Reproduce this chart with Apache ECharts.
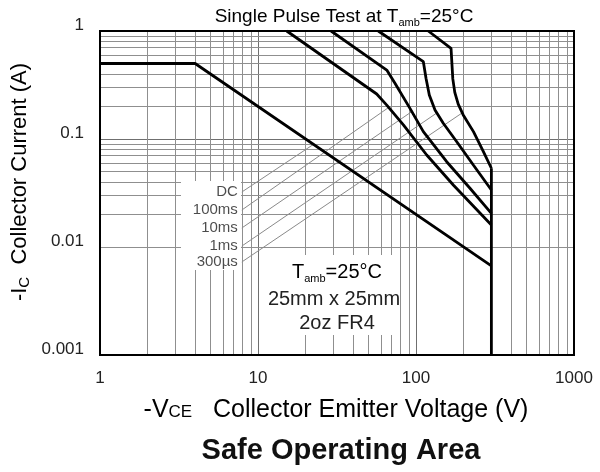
<!DOCTYPE html>
<html>
<head>
<meta charset="utf-8">
<title>Safe Operating Area</title>
<script src="https://cdn.jsdelivr.net/npm/echarts@6/dist/echarts.min.js"></script>
<style>
  html, body { margin: 0; padding: 0; background: #fff; }
  #chart { width: 600px; height: 472px; }
</style>
</head>
<body>
<div id="chart"></div>
<script>
// 坐标轴刻度
const xTickLabels = ["1", "10", "100", "1000"];
const yTickLabels = ["0.001", "0.01", "0.1", "1"];
// 网格线 (十进位主线 + 次线)
const majorX = [10, 100];
const majorY = [0.01, 0.1];
const gridX = [2, 3, 4, 5, 6, 7, 8, 9, 20, 30, 40, 50, 60, 70, 80, 90, 200, 300, 400, 500, 600, 700, 800, 900];
const gridY = [0.002, 0.003, 0.004, 0.005, 0.006, 0.007, 0.008, 0.009,
  0.02, 0.03, 0.04, 0.05, 0.06, 0.07, 0.08, 0.09,
  0.2, 0.3, 0.4, 0.5, 0.6, 0.7, 0.8, 0.9];

// SOA 曲线 [Vce, Ic]
const dcCurve = [[1, 0.5], [4, 0.5], [300, 0.0067]];
const ms100Curve = [[15.2, 1], [56.4, 0.261], [65.3, 0.206], [83.2, 0.135], [116.9, 0.0711], [172.2, 0.0375], [300, 0.016]];
const ms10Curve = [[29, 1], [65.3, 0.435], [73.6, 0.328], [91.6, 0.192], [111.3, 0.117], [156.4, 0.0616], [219.6, 0.035], [300, 0.0205]];
const ms1Curve = [[57.7, 1], [111.3, 0.52], [115.7, 0.365], [121.4, 0.255], [131.9, 0.186], [148.8, 0.14], [181.1, 0.0944], [230.6, 0.0574], [300, 0.0337]];
const us300Curve = [[119.6, 1], [166.6, 0.692], [171, 0.36], [176, 0.27], [185, 0.21], [199, 0.167], [231, 0.117], [267, 0.0763], [300, 0.0536]];
const limitLine = [[300, 0.001], [300, 0.0536]];

// 标注文字和引线
const labelNames = ["DC", "100ms", "10ms", "1ms", "300µs"];
const labelAnchors = [[7.9, 0.0323], [7.9, 0.022], [7.9, 0.015], [7.9, 0.0102], [7.9, 0.00727]];
const leaderEnds = [[22.4, 0.089], [66.5, 0.194], [93.9, 0.179], [135.3, 0.174], [195.5, 0.174]];

const FONT = "Liberation Sans, Arial, sans-serif";
const TEXT = "#222";
// 绘图区
const G = { left: 100, top: 31, width: 474, height: 324 };

const chart = echarts.init(document.getElementById("chart"));

const curveStyle = { color: "#000", width: 2.8 };
const curve = data => ({
  type: "line",
  data: data,
  symbol: "none",
  z: 10,
  lineStyle: curveStyle,
  silent: true
});

const leaders = leaderEnds.map((end, i) => ({
  type: "line",
  data: [labelAnchors[i], end],
  symbol: "none",
  z: 9,
  lineStyle: { color: "#8a8a8a", width: 1 },
  silent: true
}));

const majorStyle = { color: "#6f6f6f", width: 1, type: "solid" };
const gridLines = []
  .concat(majorX.map(v => ({ xAxis: v, lineStyle: majorStyle })))
  .concat(majorY.map(v => ({ yAxis: v, lineStyle: majorStyle })))
  .concat(gridX.map(v => ({ xAxis: v })))
  .concat(gridY.map(v => ({ yAxis: v })));

const option = {
  backgroundColor: "#fff",
  animation: false,
  grid: {
    left: G.left,
    top: G.top,
    width: G.width,
    height: G.height
  },
  xAxis: {
    type: "log",
    logBase: 10,
    min: 1,
    max: 1000,
    axisLine: { show: false },
    axisTick: { show: false },
    splitLine: { show: false },
    axisLabel: {
      fontFamily: FONT,
      fontSize: 17,
      color: TEXT,
      margin: 15,
      formatter: (v, i) => xTickLabels[i]
    }
  },
  yAxis: {
    type: "log",
    logBase: 10,
    min: 0.001,
    max: 1,
    axisLine: { show: false },
    axisTick: { show: false },
    splitLine: { show: false },
    axisLabel: {
      fontFamily: FONT,
      fontSize: 17,
      color: TEXT,
      margin: 16,
      verticalAlign: "bottom",
      lineHeight: 12,
      formatter: (v, i) => yTickLabels[i]
    }
  },
  series: [
    {
      // 网格线
      type: "line",
      data: [],
      z: 1,
      silent: true,
      markLine: {
        silent: true,
        z: 2,
        symbol: "none",
        animation: false,
        label: { show: false },
        lineStyle: { color: "#8f8f8f", width: 1, type: "solid" },
        data: gridLines
      }
    },
    curve(dcCurve),
    curve(ms100Curve),
    curve(ms10Curve),
    curve(ms1Curve),
    curve(us300Curve),
    curve(limitLine),
    ...leaders,
    {
      type: "scatter",
      data: labelAnchors.map((p, i) => [p[0], p[1], labelNames[i]]),
      symbolSize: 0,
      z: 12,
      silent: true,
      label: {
        show: true,
        position: "left",
        distance: 4,
        fontFamily: FONT,
        fontSize: 15,
        color: "#1e1e1e",
        formatter: p => p.value[2]
      }
    }
  ],
  graphic: {
    z: 6,
    elements: [
      // 白底遮挡网格
      { type: "rect", z: 6, silent: true, shape: { x: 181, y: 181, width: 60, height: 89 }, style: { fill: "#fff" } },
      { type: "rect", z: 6, silent: true, shape: { x: 259, y: 255, width: 140, height: 80 }, style: { fill: "#fff" } },
      // 外框
      { type: "rect", z: 20, silent: true, shape: { x: G.left, y: G.top, width: G.width, height: G.height }, style: { fill: null, stroke: "#000", lineWidth: 2 } },
      // 顶部标题
      {
        type: "text", z: 20, x: 344, y: 17,
        style: {
          text: "{a|Single Pulse Test at T}{s|amb}{a|=25°C}",
          align: "center", verticalAlign: "middle",
          rich: {
            a: { fontFamily: FONT, fontSize: 19, color: TEXT, lineHeight: 22 },
            s: { fontFamily: FONT, fontSize: 11, color: TEXT, lineHeight: 12, verticalAlign: "bottom" }
          }
        }
      },
      // 条件说明
      {
        type: "text", z: 20, x: 337, y: 272,
        style: {
          text: "{a|T}{s|amb}{a|=25°C}",
          align: "center", verticalAlign: "middle",
          rich: {
            a: { fontFamily: FONT, fontSize: 20, color: TEXT, lineHeight: 24 },
            s: { fontFamily: FONT, fontSize: 11, color: TEXT, lineHeight: 8, verticalAlign: "bottom" }
          }
        }
      },
      {
        type: "text", z: 20, x: 334, y: 299,
        style: { text: "25mm x 25mm", align: "center", verticalAlign: "middle", fontFamily: FONT, fontSize: 20, fill: TEXT }
      },
      {
        type: "text", z: 20, x: 337, y: 323,
        style: { text: "2oz FR4", align: "center", verticalAlign: "middle", fontFamily: FONT, fontSize: 20, fill: TEXT }
      },
      // y 轴标题
      {
        type: "text", z: 20, x: 20, y: 182, rotation: Math.PI / 2,
        style: {
          text: "{a|-I}{s|C}{a|  Collector Current (A)}",
          align: "center", verticalAlign: "middle",
          rich: {
            a: { fontFamily: FONT, fontSize: 22, color: TEXT, lineHeight: 26 },
            s: { fontFamily: FONT, fontSize: 15, color: TEXT, lineHeight: 26, verticalAlign: "middle", padding: [10, 0, 0, 0] }
          }
        }
      },
      // x 轴标题
      {
        type: "text", z: 20, x: 336, y: 410,
        style: {
          text: "{a|-V}{s|CE}{a|   Collector Emitter Voltage (V)}",
          align: "center", verticalAlign: "middle",
          rich: {
            a: { fontFamily: FONT, fontSize: 25, color: TEXT, lineHeight: 28 },
            s: { fontFamily: FONT, fontSize: 17, color: TEXT, lineHeight: 28, verticalAlign: "middle", padding: [5, 0, 0, 0] }
          }
        }
      },
      // 图名
      {
        type: "text", z: 20, x: 341, y: 451,
        style: { text: "Safe Operating Area", align: "center", verticalAlign: "middle", fontFamily: FONT, fontSize: 29, fontWeight: "bold", fill: "#111" }
      }
    ]
  }
};

chart.setOption(option);
</script>
</body>
</html>
